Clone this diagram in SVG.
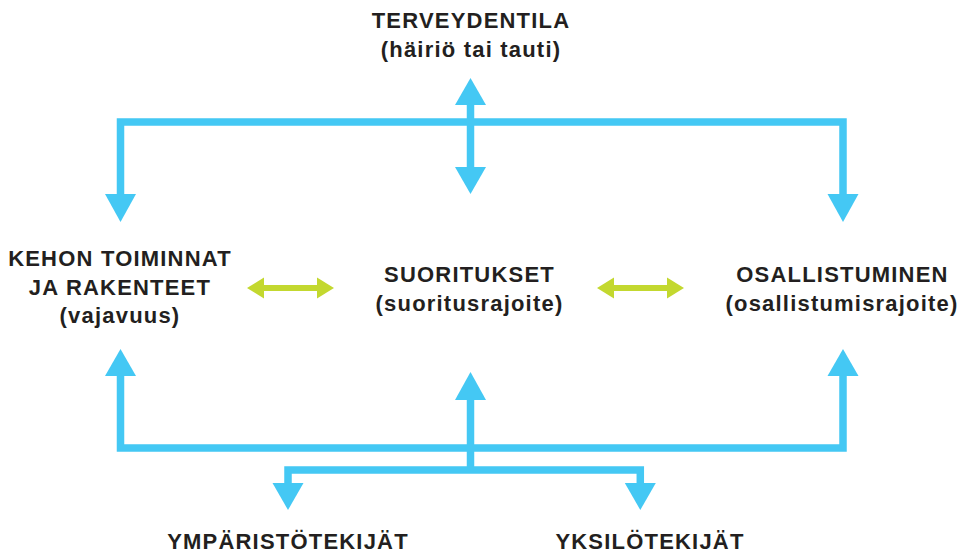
<svg xmlns="http://www.w3.org/2000/svg" width="959" height="555" viewBox="0 0 959 555">
  <style>
    .t { font-family: "Liberation Sans", Arial, Helvetica, sans-serif; font-weight: bold; font-size: 22px; letter-spacing: 1.2px; fill: #231f20; text-anchor: middle; }
    .b { fill: none; stroke: #44c8f4; stroke-width: 7.5; stroke-linejoin: miter; }
    .bh { fill: #44c8f4; }
    .g { fill: none; stroke: #c3d82f; stroke-width: 6; }
    .gh { fill: #c3d82f; }
  </style>
  <rect width="959" height="555" fill="#ffffff"/>

  <g id="connectors">
    <!-- top frame -->
    <path class="b" d="M120.5 194 V122 H843 V194"/>
    <path class="b" d="M470.5 104 V170"/>
    <polygon class="bh" points="470.5,78 455,105 486,105"/>
    <polygon class="bh" points="470.5,194 455,167 486,167"/>
    <polygon class="bh" points="120.5,222 105,194 136,194"/>
    <polygon class="bh" points="843,222 827.5,194 858.5,194"/>

    <!-- bottom frame -->
    <path class="b" d="M120.5 374 V448 H843 V374"/>
    <polygon class="bh" points="120.5,349 105,376 136,376"/>
    <polygon class="bh" points="843,349 827.5,376 858.5,376"/>
    <path class="b" d="M470.5 398 V470"/>
    <polygon class="bh" points="470.5,372 455,400 486,400"/>
    <path class="b" d="M288 485 V470 H640.3 V485"/>
    <polygon class="bh" points="288,510 272.5,483 303.5,483"/>
    <polygon class="bh" points="640.3,510 624.8,483 655.8,483"/>

    <!-- green arrows -->
    <path class="g" d="M262 288 H319"/>
    <polygon class="gh" points="247,288 264,277.5 264,298.5"/>
    <polygon class="gh" points="334,288 317,277.5 317,298.5"/>
    <path class="g" d="M612 288 H668"/>
    <polygon class="gh" points="597,288 614,277.5 614,298.5"/>
    <polygon class="gh" points="684,288 667,277.5 667,298.5"/>
  </g>

  <g id="terveydentila">
    <text class="t" x="471" y="28">TERVEYDENTILA</text>
    <text class="t" x="471" y="57">(häiriö tai tauti)</text>
  </g>
  <g id="kehon-toiminnat">
    <text class="t" x="120" y="266">KEHON TOIMINNAT</text>
    <text class="t" x="120" y="295">JA RAKENTEET</text>
    <text class="t" x="120" y="323">(vajavuus)</text>
  </g>
  <g id="suoritukset">
    <text class="t" x="469.5" y="282">SUORITUKSET</text>
    <text class="t" x="469.5" y="311">(suoritusrajoite)</text>
  </g>
  <g id="osallistuminen">
    <text class="t" x="842.5" y="282">OSALLISTUMINEN</text>
    <text class="t" x="842" y="311">(osallistumisrajoite)</text>
  </g>
  <g id="ymparistotekijat">
    <text class="t" x="288" y="549">YMPÄRISTÖTEKIJÄT</text>
  </g>
  <g id="yksilotekijat">
    <text class="t" x="650" y="549">YKSILÖTEKIJÄT</text>
  </g>
</svg>
